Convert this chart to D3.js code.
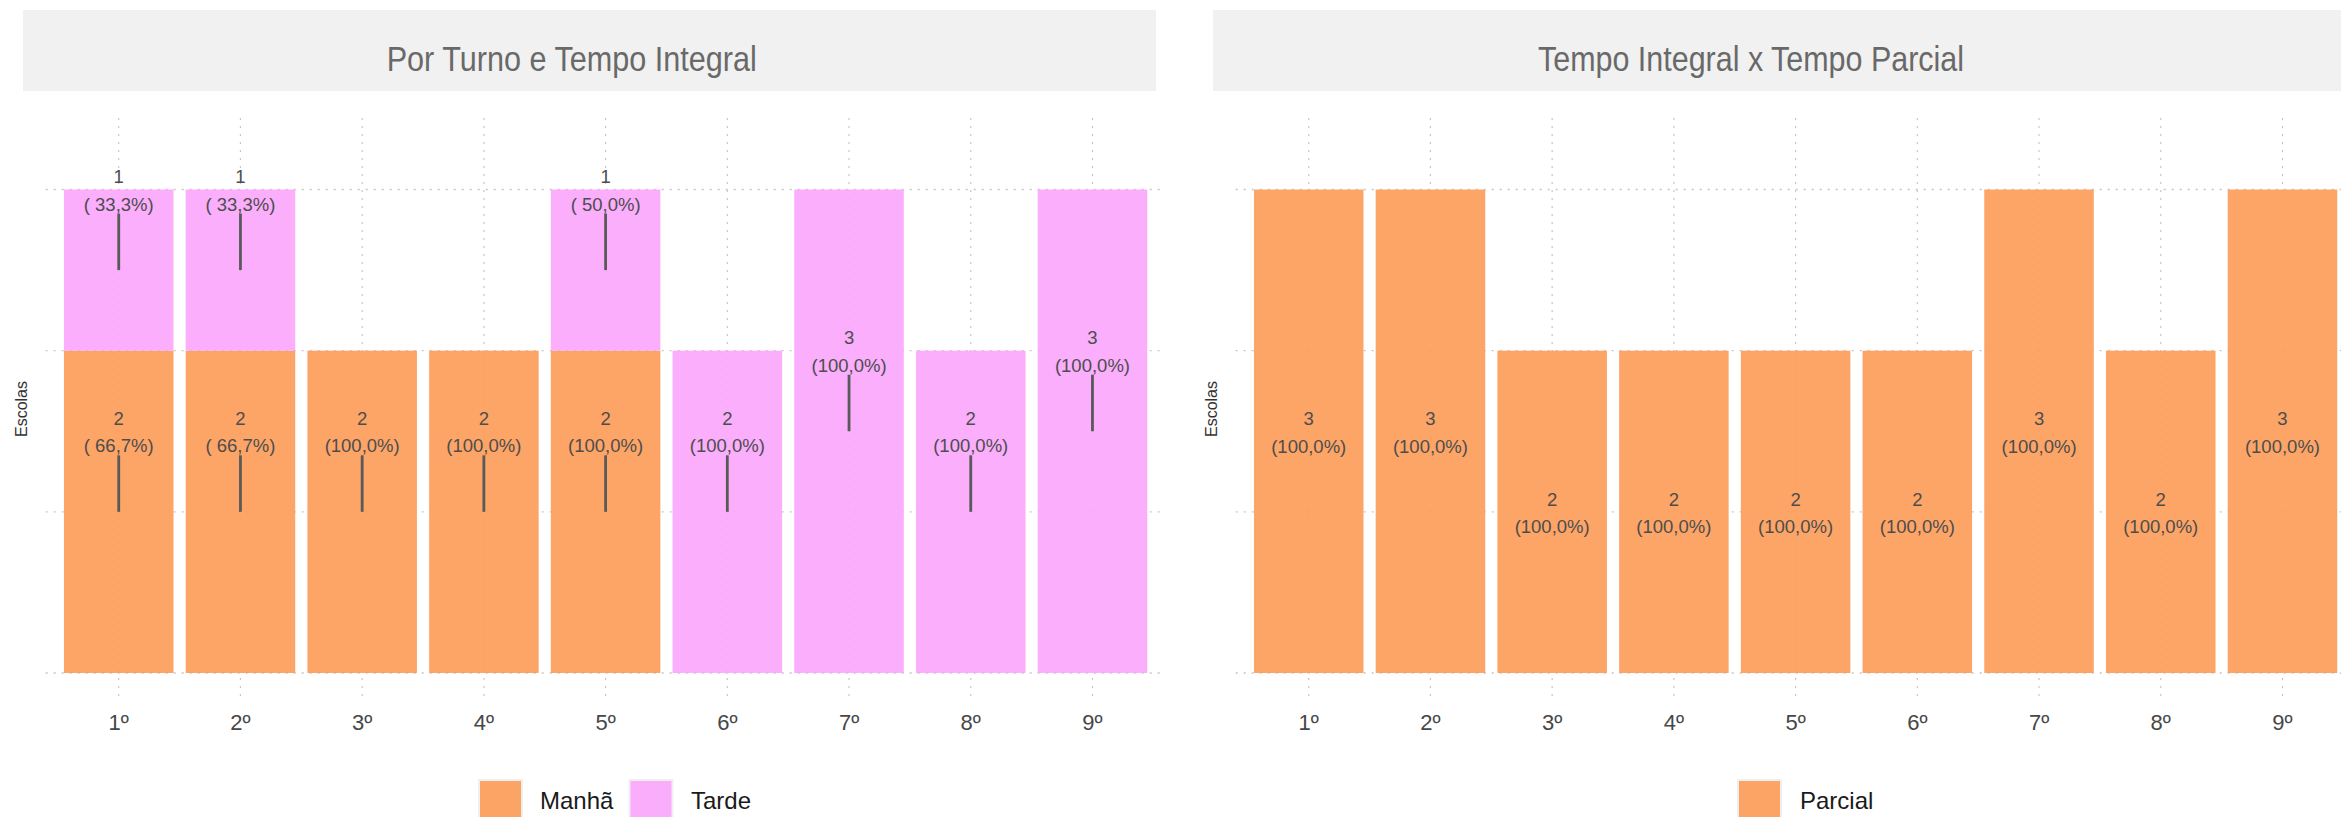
<!DOCTYPE html>
<html>
<head>
<meta charset="utf-8">
<script src="https://cdn.jsdelivr.net/npm/d3@7"></script>
<style>
  html, body { margin: 0; padding: 0; background: #ffffff; }
  svg { display: block; }
</style>
</head>
<body>
<script>
// ---------------- DATA ----------------
const categories = ["1º", "2º", "3º", "4º", "5º", "6º", "7º", "8º", "9º"];

// Panel 1: Por Turno e Tempo Integral
const manhaValues = [2, 2, 2, 2, 2, 0, 0, 0, 0];
const manhaLabels = ["( 66,7%)", "( 66,7%)", "(100,0%)", "(100,0%)", "(100,0%)", "", "", "", ""];
const tardeValues = [1, 1, 0, 0, 1, 2, 3, 2, 3];
const tardeLabels = ["( 33,3%)", "( 33,3%)", "", "", "( 50,0%)", "(100,0%)", "(100,0%)", "(100,0%)", "(100,0%)"];

// Panel 2: Tempo Integral x Tempo Parcial
const parcialValues = [3, 3, 2, 2, 2, 2, 3, 2, 3];
const parcialLabels = ["(100,0%)", "(100,0%)", "(100,0%)", "(100,0%)", "(100,0%)", "(100,0%)", "(100,0%)", "(100,0%)", "(100,0%)"];

const yTicks = [0, 1, 2, 3];
const panelTitles = ["Por Turno e Tempo Integral", "Tempo Integral x Tempo Parcial"];
const seriesNames1 = ["Manhã", "Tarde"];
const seriesNames2 = ["Parcial"];
const yTitle = "Escolas";

// ---------------- STYLE ----------------
const W = 2341, H = 817;
const colors = { "Manhã": "#FD9B57", "Tarde": "#F9A5FC", "Parcial": "#FD9B57" };
const keyColors = { "Manhã": "#FCA366", "Tarde": "#F9ADFB", "Parcial": "#FCA366" };
const barOpacity = 0.9;
const gridColor = "#c6c6c6";
const labelColor = "#4d4d4d";
const sansFont = "'Liberation Sans', Arial, Helvetica, sans-serif";
const narrowFont = "'Liberation Sans Narrow', 'Arial Narrow', 'Liberation Sans', Arial, sans-serif";

const svg = d3.select("body").append("svg")
  .attr("width", W).attr("height", H)
  .attr("viewBox", `0 0 ${W} ${H}`);
svg.append("rect").attr("width", W).attr("height", H).attr("fill", "#ffffff");

// Panel geometry
const panelTop = 118, panelBottom = 700;
const y = d3.scaleLinear().domain([-0.1675, 3.4436]).range([panelBottom, panelTop]);

function makeX(left, right) {
  return d3.scaleBand().domain(categories).range([left, right]).paddingInner(0.1).paddingOuter(0.15);
}

function drawPanel(opts) {
  const { x, left, right, strip, title, titleCenter, titleWidth, yTitleX } = opts;
  const g = svg.append("g");

  // strip
  g.append("rect")
    .attr("x", strip[0]).attr("y", 10)
    .attr("width", strip[1] - strip[0]).attr("height", 81)
    .attr("fill", "#f1f1f1");
  g.append("text")
    .attr("x", titleCenter).attr("y", 71)
    .attr("text-anchor", "middle")
    .attr("font-family", narrowFont)
    .attr("font-size", 35)
    .attr("fill", "#696969")
    .attr("textLength", titleWidth)
    .attr("lengthAdjust", "spacingAndGlyphs")
    .text(title);

  // grid
  g.append("g").selectAll("line.v")
    .data(categories).enter().append("line")
    .attr("x1", d => x(d) + x.bandwidth() / 2)
    .attr("x2", d => x(d) + x.bandwidth() / 2)
    .attr("y1", panelTop).attr("y2", panelBottom)
    .attr("stroke", gridColor).attr("stroke-width", 1.2)
    .attr("stroke-dasharray", "2,6");
  g.append("g").selectAll("line.h")
    .data(yTicks).enter().append("line")
    .attr("x1", left).attr("x2", right)
    .attr("y1", d => y(d)).attr("y2", d => y(d))
    .attr("stroke", gridColor).attr("stroke-width", 1.4)
    .attr("stroke-dasharray", "2,6");

  // y title
  g.append("text")
    .attr("transform", `translate(${yTitleX},${(panelTop + panelBottom) / 2}) rotate(-90)`)
    .attr("text-anchor", "middle")
    .attr("font-family", sansFont)
    .attr("font-size", 16)
    .attr("fill", "#333333")
    .text(yTitle);

  // x tick labels
  g.append("g").selectAll("text")
    .data(categories).enter().append("text")
    .attr("x", d => x(d) + x.bandwidth() / 2)
    .attr("y", 730)
    .attr("text-anchor", "middle")
    .attr("font-family", sansFont)
    .attr("font-size", 22)
    .attr("fill", "#474747")
    .text(d => d);
  return g;
}

function drawLegend(items, positions) {
  const g = svg.append("g");
  items.forEach((name, i) => {
    const p = positions[i];
    g.append("rect")
      .attr("x", p.key).attr("y", 780)
      .attr("width", 43).attr("height", 43)
      .attr("fill", keyColors[name])
      .attr("stroke", "#efefef").attr("stroke-width", 2);
    g.append("text")
      .attr("x", p.text).attr("y", 809)
      .attr("font-family", sansFont)
      .attr("font-size", 24)
      .attr("fill", "#1a1a1a")
      .text(name);
  });
}

// ---------------- PANEL 1 ----------------
const x1 = makeX(45.7, 1165.5);
const g1 = drawPanel({
  x: x1, left: 45.7, right: 1165.5, strip: [23, 1156],
  title: panelTitles[0], titleCenter: 571.7, titleWidth: 370, yTitleX: 27
});

const stacked1 = categories.map((c, i) => ({
  cat: c,
  segs: [
    { name: "Manhã", y0: 0, y1: manhaValues[i], v: manhaValues[i], lab: manhaLabels[i] },
    { name: "Tarde", y0: manhaValues[i], y1: manhaValues[i] + tardeValues[i], v: tardeValues[i], lab: tardeLabels[i] }
  ].filter(s => s.v > 0)
}));
const segs1 = stacked1.flatMap(d => d.segs.map(s => Object.assign({ cat: d.cat }, s)));

g1.append("g").selectAll("rect")
  .data(segs1).enter().append("rect")
  .attr("x", d => x1(d.cat))
  .attr("width", x1.bandwidth())
  .attr("y", d => y(d.y1))
  .attr("height", d => y(d.y0) - y(d.y1))
  .attr("fill", d => colors[d.name])
  .attr("fill-opacity", barOpacity);

const lab1 = g1.append("g");
segs1.forEach(d => {
  const cx = x1(d.cat) + x1.bandwidth() / 2;
  const mid = y((d.y0 + d.y1) / 2);
  lab1.append("line")
    .attr("x1", cx).attr("x2", cx)
    .attr("y1", mid - 56.5).attr("y2", mid)
    .attr("stroke", "#595959").attr("stroke-width", 2.8);
  lab1.append("text")
    .attr("x", cx).attr("y", mid - 93.5)
    .attr("text-anchor", "middle").attr("dominant-baseline", "central")
    .attr("font-family", sansFont).attr("font-size", 18.5).attr("fill", labelColor)
    .text(d.v);
  lab1.append("text")
    .attr("x", cx).attr("y", mid - 66)
    .attr("text-anchor", "middle").attr("dominant-baseline", "central")
    .attr("font-family", sansFont).attr("font-size", 18.5).attr("fill", labelColor)
    .text(d.lab);
});

drawLegend(seriesNames1, [{ key: 479, text: 540 }, { key: 629.5, text: 691 }]);

// ---------------- PANEL 2 ----------------
const x2 = makeX(1235.7, 2355.5);
const g2 = drawPanel({
  x: x2, left: 1235.7, right: 2355.5, strip: [1213, 2346],
  title: panelTitles[1], titleCenter: 1751, titleWidth: 426, yTitleX: 1217
});

const segs2 = categories.map((c, i) => ({ cat: c, name: "Parcial", y0: 0, y1: parcialValues[i], v: parcialValues[i], lab: parcialLabels[i] }));

g2.append("g").selectAll("rect")
  .data(segs2).enter().append("rect")
  .attr("x", d => x2(d.cat))
  .attr("width", x2.bandwidth())
  .attr("y", d => y(d.y1))
  .attr("height", d => y(d.y0) - y(d.y1))
  .attr("fill", d => colors[d.name])
  .attr("fill-opacity", barOpacity);

const lab2 = g2.append("g");
segs2.forEach(d => {
  const cx = x2(d.cat) + x2.bandwidth() / 2;
  const mid = y((d.y0 + d.y1) / 2);
  lab2.append("text")
    .attr("x", cx).attr("y", mid - 12.5)
    .attr("text-anchor", "middle").attr("dominant-baseline", "central")
    .attr("font-family", sansFont).attr("font-size", 18.5).attr("fill", labelColor)
    .text(d.v);
  lab2.append("text")
    .attr("x", cx).attr("y", mid + 15)
    .attr("text-anchor", "middle").attr("dominant-baseline", "central")
    .attr("font-family", sansFont).attr("font-size", 18.5).attr("fill", labelColor)
    .text(d.lab);
});

drawLegend(seriesNames2, [{ key: 1738, text: 1800 }]);
</script>
</body>
</html>
